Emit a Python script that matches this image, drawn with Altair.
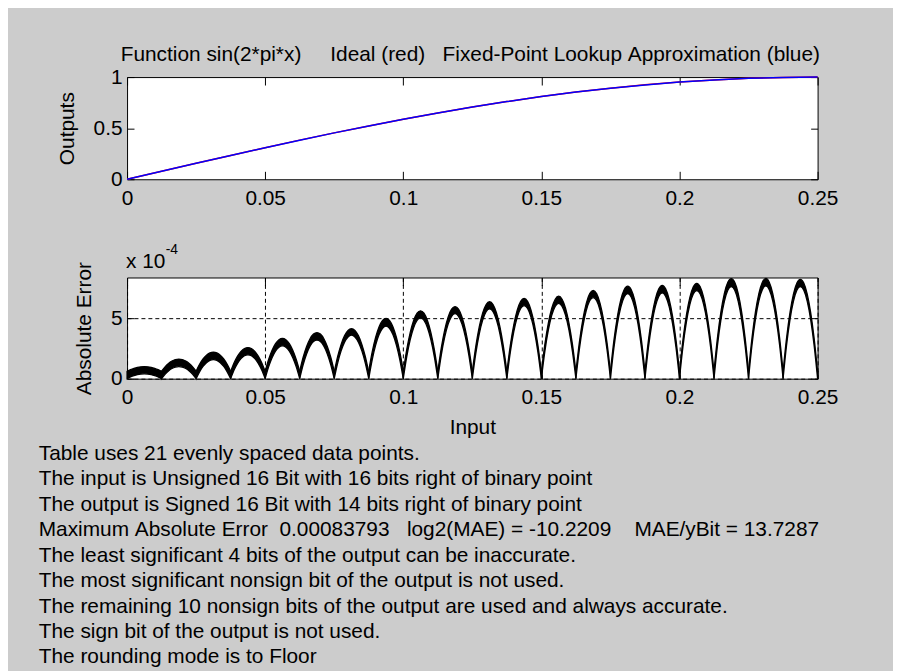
import altair as alt
import pandas as pd

FONT = "Liberation Sans"
FS = 21
BG = "#cccccc"
NB = "\u00a0"

# ---------------- data ----------------
# table breakpoints (21 evenly spaced points)
x_table = [0.0, 0.0125, 0.025, 0.0375, 0.05, 0.0625, 0.075, 0.0875, 0.1, 0.1125, 0.125,
           0.1375, 0.15, 0.1625, 0.175, 0.1875, 0.2, 0.2125, 0.225, 0.2375, 0.25]
ideal_out = [0.0, 0.078, 0.156, 0.233, 0.309, 0.383, 0.454, 0.522, 0.588, 0.649, 0.707,
             0.760, 0.809, 0.853, 0.891, 0.924, 0.951, 0.972, 0.988, 0.997, 1.0]
approx_out = [0.0, 0.078, 0.156, 0.233, 0.309, 0.382, 0.454, 0.522, 0.587, 0.649, 0.707,
              0.760, 0.809, 0.853, 0.891, 0.923, 0.951, 0.972, 0.988, 0.997, 1.0]

# absolute error (units of 1e-4): lower / upper edge of the band at each arc's crest
err_lower_peak = [0.40, 1.00, 1.58, 1.98, 2.72, 3.20, 3.60, 4.35, 5.03, 5.38,
                  5.78, 6.05, 6.24, 6.72, 7.04, 7.10, 7.30, 7.62, 7.68, 7.62]
err_upper_peak = [1.00, 1.62, 2.20, 2.58, 3.33, 3.82, 4.14, 5.00, 5.62, 5.97,
                  6.37, 6.64, 6.83, 7.31, 7.66, 7.72, 7.90, 8.28, 8.30, 8.22]
# shape of one arc (fraction of crest height across one table interval)
arc_t = [0.0, 0.1, 0.2, 0.3, 0.4, 0.5, 0.6, 0.7, 0.8, 0.9, 1.0]
arc_profile = [0.0, 0.36, 0.64, 0.84, 0.96, 1.0, 0.96, 0.84, 0.64, 0.36, 0.0]

x_ticks = [0, 0.05, 0.1, 0.15, 0.2, 0.25]
out_ticks = [0, 0.5, 1]
err_ticks = [0, 5]
err_max = 8.3793

title_text = "Function sin(2*pi*x)     Ideal (red)   Fixed-Point Lookup Approximation (blue)"
text_lines = [
    "Table uses 21 evenly spaced data points.",
    "The input is Unsigned 16 Bit with 16 bits right of binary point",
    "The output is Signed 16 Bit with 14 bits right of binary point",
    "Maximum Absolute Error  0.00083793   log2(MAE) = -10.2209    MAE/yBit = 13.7287",
    "The least significant 4 bits of the output can be inaccurate.",
    "The most significant nonsign bit of the output is not used.",
    "The remaining 10 nonsign bits of the output are used and always accurate.",
    "The sign bit of the output is not used.",
    "The rounding mode is to Floor",
]

# ---------------- tables ----------------
top_df = pd.DataFrame({"x": x_table, "ideal": ideal_out, "approx": approx_out})

rows = []
for k in range(len(x_table) - 1):
    x0, x1 = x_table[k], x_table[k + 1]
    lo, hi = err_lower_peak[k], err_upper_peak[k]
    for t, p in zip(arc_t, arc_profile):
        rows.append({"arc": k, "x": x0 + t * (x1 - x0), "lo": lo * p, "hi": lo * p + (hi - lo)})
err_df = pd.DataFrame(rows)

text_df = pd.DataFrame({"i": list(range(len(text_lines))),
                        "line": [s.replace(" ", NB) for s in text_lines]})
title_df = pd.DataFrame({"t": [title_text.replace(" ", NB)]})

W, H1, H2 = 696, 103, 102

xs = alt.Scale(domain=[0, 0.25], nice=False, zero=False)
ys_top = alt.Scale(domain=[0, 1], nice=False)
ys_err = alt.Scale(domain=[0, err_max], nice=False)


def main_axes(yvals, grid):
    common = dict(labelFont=FONT, labelFontSize=FS, labelColor="black",
                  titleFont=FONT, titleFontSize=FS, titleFontWeight="normal",
                  titleColor="black", ticks=False, domain=False, labelOverlap=False)
    if grid:
        common.update(grid=True, gridColor="black", gridDash=[4, 3], gridWidth=1, gridOpacity=1)
    else:
        common.update(grid=False)
    xa = alt.Axis(values=x_ticks, format="~g", orient="bottom", labelPadding=8,
                  labelFlush=False, titlePadding=9, **common)
    ya = alt.Axis(values=yvals, format="~g", orient="left", labelPadding=5,
                  titlePadding=16, minExtent=0, **common)
    return xa, ya


def tick_axes_inner_low(H, yvals):
    # ticks pointing into the plot from bottom edge and left edge
    xa = alt.Axis(values=x_ticks, orient="top", offset=-H, labels=False, ticks=True,
                  tickSize=8, tickColor="black", domain=False, grid=False)
    ya = alt.Axis(values=yvals, orient="right", offset=-W, labels=False, ticks=True,
                  tickSize=7, tickColor="black", domain=False, grid=False)
    return xa, ya


def tick_axes_inner_high(H, yvals):
    # ticks pointing into the plot from top edge and right edge
    xa = alt.Axis(values=x_ticks, orient="bottom", offset=-H, labels=False, ticks=True,
                  tickSize=8, tickColor="black", domain=False, grid=False)
    ya = alt.Axis(values=yvals, orient="left", offset=-W, labels=False, ticks=True,
                  tickSize=7, tickColor="black", domain=False, grid=False)
    return xa, ya


# ---------------- top panel ----------------
xa, ya = main_axes(out_ticks, False)
ideal_line = alt.Chart(top_df).mark_line(color="red", strokeWidth=1.5).encode(
    x=alt.X("x:Q", scale=xs, axis=xa, title=None),
    y=alt.Y("ideal:Q", scale=ys_top, axis=ya, title="Outputs"),
)
xa2, ya2 = tick_axes_inner_low(H1, out_ticks)
approx_line = alt.Chart(top_df).mark_line(color="#0000ff", strokeWidth=1.5).encode(
    x=alt.X("x:Q", scale=xs, axis=xa2, title=None),
    y=alt.Y("approx:Q", scale=ys_top, axis=ya2, title=None),
)
xa3, ya3 = tick_axes_inner_high(H1, out_ticks)
approx_ghost = alt.Chart(top_df).mark_line(color="#0000ff", opacity=0).encode(
    x=alt.X("x:Q", scale=xs, axis=xa3, title=None),
    y=alt.Y("approx:Q", scale=ys_top, axis=ya3, title=None),
)
top_title = alt.Chart(title_df).mark_text(align="center", baseline="alphabetic", font=FONT,
                                          fontSize=FS, color="black").encode(
    x=alt.value(346), y=alt.value(-16), text="t:N")

top = alt.layer(ideal_line, approx_line, approx_ghost, top_title).resolve_axis(
    x="independent", y="independent"
).properties(
    width=W, height=H1,
    view=alt.ViewBackground(fill="white", stroke="black", strokeWidth=1),
)

# ---------------- bottom panel ----------------
xb, yb = main_axes(err_ticks, True)
band = alt.Chart(err_df).mark_area(color="black", interpolate="monotone",
                                   stroke="black", strokeWidth=1.3).encode(
    x=alt.X("x:Q", scale=xs, axis=xb, title="Input"),
    y=alt.Y("lo:Q", scale=ys_err, axis=yb, title="Absolute Error"),
    y2="hi:Q",
    detail="arc:N",
)
xb2, yb2 = tick_axes_inner_low(H2, err_ticks)
band_t1 = alt.Chart(err_df).mark_area(opacity=0).encode(
    x=alt.X("x:Q", scale=xs, axis=xb2, title=None),
    y=alt.Y("lo:Q", scale=ys_err, axis=yb2, title=None),
    y2="hi:Q", detail="arc:N",
)
xb3, yb3 = tick_axes_inner_high(H2, err_ticks)
band_t2 = alt.Chart(err_df).mark_area(opacity=0).encode(
    x=alt.X("x:Q", scale=xs, axis=xb3, title=None),
    y=alt.Y("lo:Q", scale=ys_err, axis=yb3, title=None),
    y2="hi:Q", detail="arc:N",
)
exp_df = pd.DataFrame({"base": ["x" + NB + "10"], "sup": ["-4"]})
exp_base = alt.Chart(exp_df).mark_text(align="left", baseline="alphabetic", font=FONT,
                                        fontSize=FS, color="black").encode(
    x=alt.value(-1), y=alt.value(-10), text="base:N")
exp_sup = alt.Chart(exp_df).mark_text(align="left", baseline="alphabetic", font=FONT,
                                       fontSize=14, color="black").encode(
    x=alt.value(39), y=alt.value(-24), text="sup:N")

bottom = alt.layer(band, band_t1, band_t2, exp_base, exp_sup).resolve_axis(
    x="independent", y="independent"
).properties(
    width=W, height=H2,
    view=alt.ViewBackground(fill="white", stroke="black", strokeWidth=1),
)

# ---------------- text block ----------------
text_chart = alt.Chart(text_df).mark_text(align="left", baseline="alphabetic", font=FONT,
                                          fontSize=FS, color="black").encode(
    x=alt.value(-89),
    y=alt.Y("i:Q", scale=alt.Scale(domain=[0, 8], range=[-17, 188]), axis=None),
    text="line:N",
).properties(
    width=W, height=188,
    view=alt.ViewBackground(fill="transparent", stroke="transparent"),
)

chart = alt.vconcat(top, bottom, text_chart, spacing=99, bounds="flush").properties(
    background=BG,
    padding={"left": 30, "top": 33, "right": 55, "bottom": 0},
).configure_view(stroke="transparent")

chart.save("out.html", embed_options={"renderer": "svg", "actions": False})
